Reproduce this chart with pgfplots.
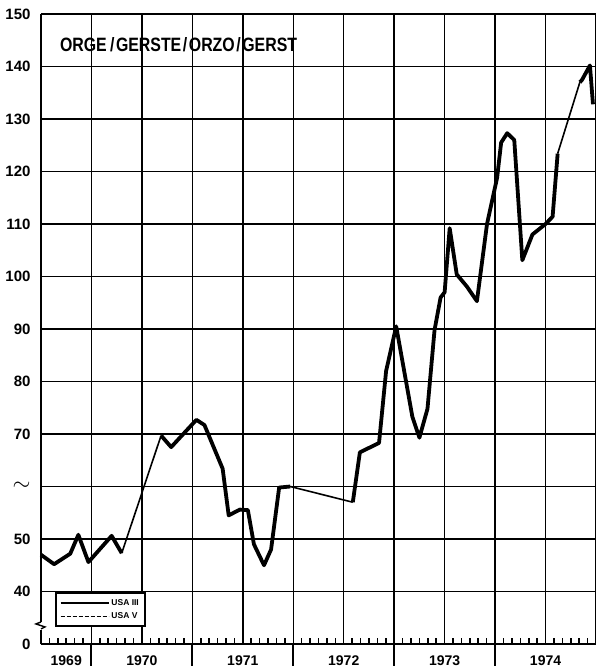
\documentclass[border=0pt]{standalone}
\usepackage{fontspec}
\setmainfont{Liberation Sans}
\usepackage{graphicx}
\usepackage{pgfplots}
\pgfplotsset{compat=1.18}
\begin{document}
\begin{tikzpicture}
\begin{axis}[
  scale only axis, width=555pt, height=630pt,
  xmin=1969.5, xmax=1975, ymin=30, ymax=150,
  clip=false,
  axis x line=bottom, axis y line=left, axis line style={-},
  x axis line style={line width=2.6pt},
  y axis line style={line width=1.8pt},
  xtick={1969.5,1970,1970.5,1971,1971.5,1972,1972.5,1973,1973.5,1974,1974.5,1975}, xticklabels={},
  minor x tick num=5,
  major tick length=0pt,
  minor tick length=6pt,
  minor tick style={line width=1.6pt, black},
  tick align=inside,
  xmajorgrids, ymajorgrids,
  grid style={black, line width=1.4pt},
  ytick={30,40,...,150},
  yticklabels={0,40,50,{\scalebox{1.6}{$\sim$}},70,80,90,100,110,120,130,140,150},
  yticklabel style={font=\bfseries\fontsize{15}{15}\selectfont, xshift=-7pt},
  extra x ticks={1970,1971,1972,1973,1974},
  extra x tick labels={},
  extra x tick style={grid=none, tick align=outside, major tick length=22pt, major tick style={line width=2pt, black}},
  legend style={at={(0.025,0.082)}, anchor=north west, draw=black, line width=2pt, fill=white,
     font=\bfseries\fontsize{8.5}{10}\selectfont, inner xsep=4pt, inner ysep=4pt, row sep=2pt, cells={anchor=west}},
  legend image code/.code={\draw[#1] (0pt,0pt) -- (48pt,0pt);},
]
\addlegendimage{black, line width=1.6pt}
\addlegendentry{USA III}
\addlegendimage{black, line width=1.6pt, dash pattern=on 4pt off 2pt}
\addlegendentry{USA V}

% thick series
\addplot[forget plot, black, line width=3.8pt, line join=round, unbounded coords=jump] coordinates {
(1969.50,47.0) (1969.63,45.2) (1969.79,47.2) (1969.87,50.8) (1969.97,45.6) (1970.20,50.6) (1970.30,47.3)
(1970.40,nan)
(1970.69,69.7) (1970.79,67.5) (1970.91,70.0) (1971.04,72.7) (1971.12,71.7) (1971.20,68.0) (1971.30,63.4)
(1971.36,54.5) (1971.47,55.6) (1971.55,55.5) (1971.61,49.0) (1971.71,45.0) (1971.78,48.0) (1971.86,59.8) (1971.97,60.0)
(1972.20,nan)
(1972.59,57.0) (1972.66,66.5) (1972.85,68.3) (1972.92,82.0) (1973.02,90.5) (1973.18,73.3) (1973.25,69.3)
(1973.33,74.8) (1973.40,89.8) (1973.46,96.0) (1973.50,97.0) (1973.55,109.2) (1973.62,100.4) (1973.72,98.1)
(1973.82,95.3) (1973.92,110.0) (1974.02,118.8) (1974.06,125.5) (1974.12,127.3) (1974.19,126.0) (1974.27,103.1)
(1974.37,108.0) (1974.50,110.0) (1974.57,111.4) (1974.62,123.4)
(1974.70,nan)
(1974.84,137.0) (1974.86,137.4) (1974.94,140.2) (1974.97,132.8)
};
% thin series
\addplot[forget plot, black, line width=1.6pt, unbounded coords=jump] coordinates {
(1970.30,47.3) (1970.69,69.7)
(1971.00,nan)
(1971.97,60.0) (1972.59,57.0)
(1972.70,nan)
(1974.62,123.4) (1974.84,137.0)
};

\coordinate (sw) at (rel axis cs:0,0);
\coordinate (ne) at (rel axis cs:1,1);
% axis break
\draw[white, line width=5pt] (axis cs:1969.5,32.6) -- (axis cs:1969.5,34.2);
\draw[black, line width=1.4pt] (axis cs:1969.5,34.2) -- ++(-5pt,-2pt) -- ++(9pt,-3pt) -- ++(-4pt,-2pt);

% title
\node[anchor=west, inner sep=0pt] at (rel axis cs:0.034,0.952)
  {\resizebox{237pt}{14pt}{\bfseries ORGE\kern2pt/\kern1pt GERSTE\kern1pt/\kern1pt ORZO\kern1pt/\kern1pt GERST}};

% year labels
\node[font=\bfseries\fontsize{14}{14}\selectfont] at ([yshift=-17pt]axis cs:1969.75,30) {1969};
\node[font=\bfseries\fontsize{14}{14}\selectfont] at ([yshift=-17pt]axis cs:1970.5,30) {1970};
\node[font=\bfseries\fontsize{14}{14}\selectfont] at ([yshift=-17pt]axis cs:1971.5,30) {1971};
\node[font=\bfseries\fontsize{14}{14}\selectfont] at ([yshift=-17pt]axis cs:1972.5,30) {1972};
\node[font=\bfseries\fontsize{14}{14}\selectfont] at ([yshift=-17pt]axis cs:1973.5,30) {1973};
\node[font=\bfseries\fontsize{14}{14}\selectfont] at ([yshift=-17pt]axis cs:1974.5,30) {1974};
\end{axis}
\pgfresetboundingbox
\useasboundingbox ([shift={(-41pt,-28pt)}]sw) rectangle ([shift={(0pt,14pt)}]ne);
\end{tikzpicture}
\end{document}
